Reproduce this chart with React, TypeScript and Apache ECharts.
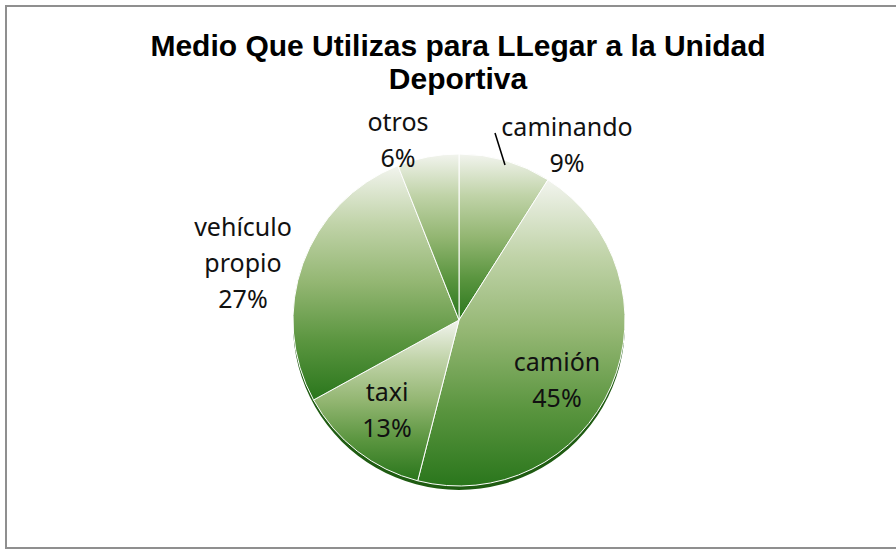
import React, { useEffect, useRef } from "react";
import * as echarts from "echarts";

const titleText = "Medio Que Utilizas para LLegar a la Unidad\nDeportiva";
const categories = ["caminando", "camión", "taxi", "vehículo\npropio", "otros"];
const values = [9, 45, 13, 27, 6];
const labelCenters: [number, number][] = [
  [567, 144],
  [557, 379],
  [387, 409],
  [243, 262],
  [398, 139],
];

export default function App() {
  const ref = useRef<HTMLDivElement>(null);
  useEffect(() => {
    if (!ref.current) return;
    const chart = echarts.init(ref.current, undefined, { renderer: "svg" });
    const grad = () =>
      new echarts.graphic.LinearGradient(0, 0, 0, 1, [
        { offset: 0, color: "#f2f4ee" },
        { offset: 0.25, color: "#c0d3a8" },
        { offset: 0.5, color: "#93b672" },
        { offset: 0.75, color: "#5a953f" },
        { offset: 1, color: "#2a761c" },
      ]);
    chart.setOption({
      animation: false,
      backgroundColor: "#ffffff",
      title: {
        text: titleText,
        left: 453,
        textAlign: "center",
        top: 24,
        textStyle: {
          fontFamily: "Liberation Sans, Arial, sans-serif",
          fontWeight: "bold",
          fontSize: 30,
          lineHeight: 33,
          color: "#000000",
        },
      },
      graphic: [
        {
          type: "rect",
          shape: { x: 6, y: 6, width: 900, height: 542 },
          style: { fill: "none", stroke: "#8f8f8f", lineWidth: 2 },
          silent: true,
          z: -1,
        },
        {
          type: "line",
          shape: { x1: 505, y1: 165, x2: 495, y2: 133 },
          style: { stroke: "#000000", lineWidth: 1.5 },
          silent: true,
          z: 10,
        },
      ],
      series: [
        {
          type: "pie",
          silent: true,
          center: [459, 324],
          radius: 166,
          startAngle: 90,
          z: 1,
          label: { show: false },
          labelLine: { show: false },
          itemStyle: { color: "#1f5c12" },
          data: [{ value: 1, name: "" }],
        },
        {
          type: "pie",
          center: [459, 320],
          radius: 166,
          startAngle: 90,
          clockwise: true,
          z: 2,
          avoidLabelOverlap: false,
          itemStyle: { borderColor: "#ffffff", borderWidth: 1, color: grad },
          label: {
            show: true,
            formatter: "{b}\n{d}%",
            fontFamily: "Noto Sans, Open Sans, sans-serif",
            fontSize: 25,
            lineHeight: 36,
            color: "#111111",
            align: "center",
          },
          labelLine: { show: false },
          labelLayout: (params: any) => {
            const c = labelCenters[params.dataIndex];
            return { x: c[0], y: c[1], align: "center", verticalAlign: "middle" };
          },
          data: categories.map((name, i) => ({
            name,
            value: values[i],
            itemStyle: { color: grad() },
          })),
        },
      ],
    });
    return () => chart.dispose();
  }, []);
  return (
    <div
      ref={ref}
      style={{ position: "fixed", left: 0, top: 0, width: 896, height: 550 }}
    />
  );
}
